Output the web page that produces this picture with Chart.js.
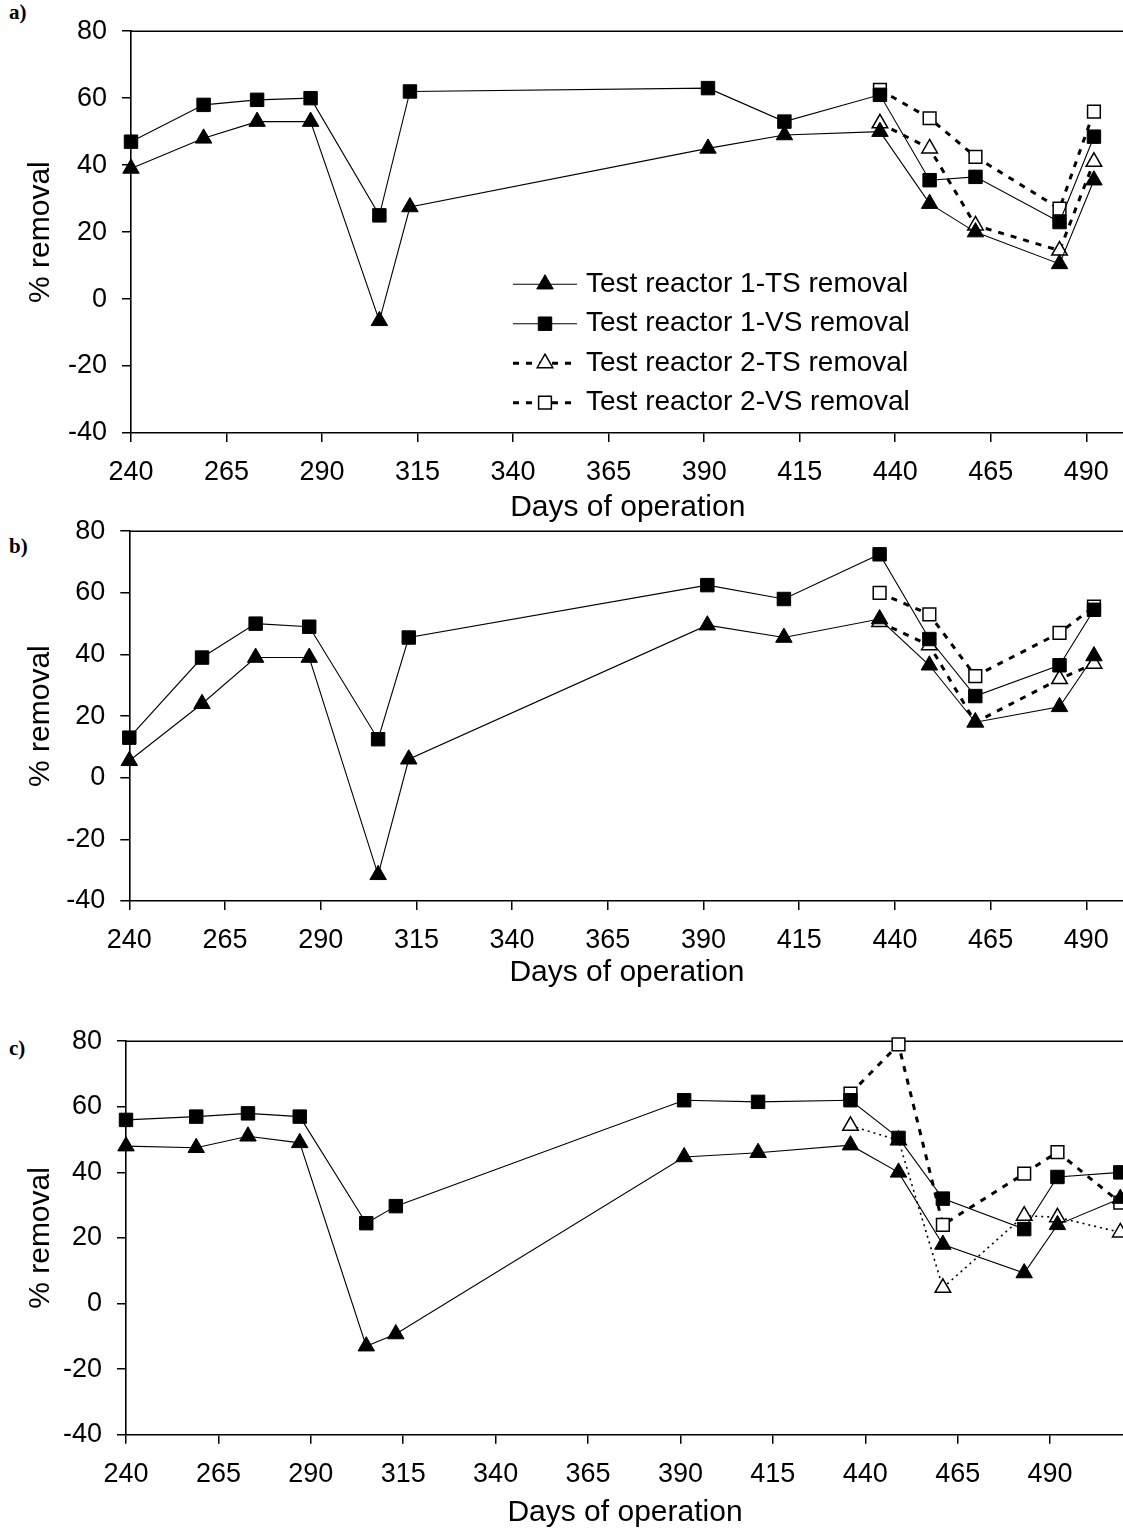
<!DOCTYPE html>
<html>
<head>
<meta charset="utf-8">
<title>% removal vs days of operation</title>
<script src="https://cdn.jsdelivr.net/npm/chart.js@4.4.1/dist/chart.umd.min.js"></script>
<style>
  html, body { margin: 0; padding: 0; background: #fff; }
  body { position: relative; width: 1123px; height: 1531px; overflow: hidden; }
  canvas { position: absolute; left: 0; }
  .tag { position: absolute; left: 9px; font: bold 21px "Liberation Serif", "Times New Roman", serif; line-height: 1; color: #000; }
</style>
</head>
<body>
<div class="tag" style="top:2px">a)</div>
<div class="tag" style="top:536px">b)</div>
<div class="tag" style="top:1038px">c)</div>
<canvas id="chartA" width="1145" height="540" style="top:0px"></canvas>
<canvas id="chartB" width="1145" height="520" style="top:500px"></canvas>
<canvas id="chartC" width="1145" height="521" style="top:1010px"></canvas>

<script>
// axis ticks
const xTicks = [240, 265, 290, 315, 340, 365, 390, 415, 440, 465, 490];
const yTicks = [-40, -20, 0, 20, 40, 60, 80];

const seriesLabels = [
  'Test reactor 1-TS removal',
  'Test reactor 1-VS removal',
  'Test reactor 2-TS removal',
  'Test reactor 2-VS removal'
];

// days of operation
const daysR1 = [240, 259, 273, 287, 305, 313, 391, 411, 436, 449, 461, 483, 492];
const daysR2 = [436, 449, 461, 483, 492];
const daysR1c = [240, 259, 273, 287, 305, 313, 391, 411, 436, 449, 461, 483, 492, 509];
const daysR2c = [436, 449, 461, 483, 492, 509];

// panel a
const aTS1 = [39, 48, 53, 53, -6.5, 27.5, 45, 49, 50, 28.5, 20, 10.5, 35.5];
const aVS1 = [47, 58, 59.5, 60, 25, 62, 63, 53, 61, 35.5, 36.5, 23, 48.5];
const aTS2 = [52.5, 45, 22, 14.5, 41];
const aVS2 = [62.5, 54, 42.5, 27, 56];

// panel b
const bTS1 = [5.5, 24, 39, 39, -31.5, 6, 49.5, 45.5, 51.5, 36.5, 18, 23, 39.5];
const bVS1 = [13, 39, 50, 49, 12.5, 45.5, 62.5, 58, 72.5, 45, 26.5, 36.5, 54.5];
const bTS2 = [50.5, 43, 18, 32, 37];
const bVS2 = [60, 53, 33, 47, 55.5];

// panel c
const cTS1 = [48, 47.5, 51, 49, -13, -9.3, 44.7, 46, 48.3, 40, 18, 9.3, 24, 32];
const cVS1 = [56, 57, 58, 57, 24.5, 29.7, 62, 61.5, 62, 50.5, 32, 22.7, 38.6, 40];
const cTS2 = [54.2, 49.8, 4.8, 26.8, 26.3, 21.7];
const cVS2 = [64, 79, 24, 39.6, 46.2, 30.8];

const FONT = '"Liberation Sans", Arial, Helvetica, sans-serif';
const CANVAS_W = 1145;

function pts(days, vals) {
  return days.map((d, i) => ({ x: d, y: vals[i] }));
}

// marker / line look per series
function style(i, dottedTS) {
  const filled = i < 2;
  const s = {
    label: seriesLabels[i],
    borderColor: '#000',
    pointStyle: i % 2 === 0 ? 'triangle' : 'rect',
    pointRadius: filled ? 9.5 : 9,
    pointBorderWidth: filled ? 1 : 1.5,
    pointBackgroundColor: filled ? '#000' : '#fff',
    pointBorderColor: '#000',
    tension: 0,
    clip: false
  };
  if (filled) {
    s.borderWidth = 1.1;
    s.borderDash = [];
  } else if (dottedTS && i === 2) {
    s.borderWidth = 1.6;
    s.borderDash = [2, 4];
  } else {
    s.borderWidth = 3;
    s.borderDash = [6, 7];
  }
  return s;
}

// top / right edge of the plot frame
const frame = {
  id: 'frame',
  beforeDatasetsDraw(chart) {
    const { ctx, chartArea: a } = chart;
    ctx.save();
    ctx.strokeStyle = '#000';
    ctx.lineWidth = 1.6;
    ctx.beginPath();
    ctx.moveTo(a.left, a.top);
    ctx.lineTo(a.right, a.top);
    ctx.lineTo(a.right, a.bottom);
    ctx.stroke();
    ctx.restore();
  }
};

// legend drawn inside the plot area (panel a only)
const insideLegend = {
  id: 'insideLegend',
  afterDatasetsDraw(chart, args, opts) {
    if (!opts.show) return;
    const ctx = chart.ctx;
    const a = chart.chartArea;
    chart.data.datasets.forEach((ds, i) => {
      const y = a.top + opts.top + i * opts.rowGap;
      const x0 = a.left + opts.left;
      ctx.save();
      ctx.strokeStyle = '#000';
      ctx.lineWidth = ds.borderWidth;
      ctx.setLineDash(ds.borderDash);
      ctx.beginPath();
      ctx.moveTo(x0, y);
      ctx.lineTo(x0 + opts.lineLen, y);
      ctx.stroke();
      ctx.setLineDash([]);
      ctx.fillStyle = ds.pointBackgroundColor;
      ctx.strokeStyle = ds.pointBorderColor;
      ctx.lineWidth = ds.pointBorderWidth;
      Chart.helpers.drawPoint(ctx, {
        pointStyle: ds.pointStyle, radius: ds.pointRadius,
        borderWidth: ds.pointBorderWidth, rotation: 0
      }, x0 + opts.lineLen / 2, y);
      ctx.fillStyle = '#000';
      ctx.font = '28px ' + FONT;
      ctx.textBaseline = 'middle';
      ctx.textAlign = 'left';
      ctx.fillText(ds.label, x0 + opts.lineLen + 9, y);
      ctx.restore();
    });
  }
};

function makePanel(p) {
  const bottomEdge = p.top + p.height;
  const datasets = [
    Object.assign(style(0, p.dotted), { data: pts(p.d1, p.ts1) }),
    Object.assign(style(1, p.dotted), { data: pts(p.d1, p.vs1) }),
    Object.assign(style(2, p.dotted), { data: pts(p.d2, p.ts2) }),
    Object.assign(style(3, p.dotted), { data: pts(p.d2, p.vs2) })
  ];
  const tickFont = { family: FONT, size: 27 };
  const titleFont = { family: FONT, size: 30 };
  const gridOpts = { drawOnChartArea: false, drawTicks: true, tickLength: 9, color: '#000', lineWidth: 1.5 };
  const borderOpts = { display: true, color: '#000', width: 1.6 };

  new Chart(document.getElementById(p.id), {
    type: 'line',
    data: { datasets },
    options: {
      responsive: false,
      animation: false,
      events: [],
      layout: { padding: { left: 0, top: p.areaTop - p.top, right: CANVAS_W - p.areaRight, bottom: 0 } },
      plugins: {
        legend: { display: false },
        tooltip: { enabled: false },
        insideLegend: p.legend
          ? { show: true, left: 382, top: 253, rowGap: 39.5, lineLen: 64 }
          : { show: false }
      },
      scales: {
        x: {
          type: 'linear',
          min: 240,
          max: p.xMax,
          afterBuildTicks: s => { s.ticks = xTicks.map(v => ({ value: v })); },
          afterFit: s => { s.height = bottomEdge - p.areaBottom; },
          grid: gridOpts,
          border: borderOpts,
          ticks: { color: '#000', font: tickFont, padding: 14.5, maxRotation: 0, autoSkip: false },
          title: {
            display: true, text: 'Days of operation', color: '#000', font: titleFont,
            padding: { top: 0, bottom: bottomEdge - p.titleY - 18 }
          }
        },
        y: {
          type: 'linear',
          min: -40,
          max: 80,
          afterBuildTicks: s => { s.ticks = yTicks.map(v => ({ value: v })); },
          afterFit: s => { s.width = p.areaLeft; },
          grid: gridOpts,
          border: borderOpts,
          ticks: { color: '#000', font: tickFont, padding: 15 },
          title: {
            display: true, text: '% removal', color: '#000', font: titleFont,
            padding: { top: 23, bottom: 0 }
          }
        }
      }
    },
    plugins: [frame, insideLegend]
  });
}

makePanel({
  id: 'chartA', top: 0, height: 540,
  areaTop: 26, areaBottom: 433, areaLeft: 131, areaRight: 1124.5, xMax: 500, titleY: 508,
  legend: true, dotted: false,
  d1: daysR1, d2: daysR2, ts1: aTS1, vs1: aVS1, ts2: aTS2, vs2: aVS2
});

makePanel({
  id: 'chartB', top: 500, height: 520,
  areaTop: 530, areaBottom: 901, areaLeft: 129.3, areaRight: 1124.6, xMax: 500, titleY: 973,
  legend: false, dotted: false,
  d1: daysR1, d2: daysR2, ts1: bTS1, vs1: bVS1, ts2: bTS2, vs2: bVS2
});

makePanel({
  id: 'chartC', top: 1010, height: 521,
  areaTop: 1034.3, areaBottom: 1434.7, areaLeft: 126, areaRight: 1124, xMax: 510, titleY: 1513,
  legend: false, dotted: true,
  d1: daysR1c, d2: daysR2c, ts1: cTS1, vs1: cVS1, ts2: cTS2, vs2: cVS2
});
</script>
</body>
</html>
